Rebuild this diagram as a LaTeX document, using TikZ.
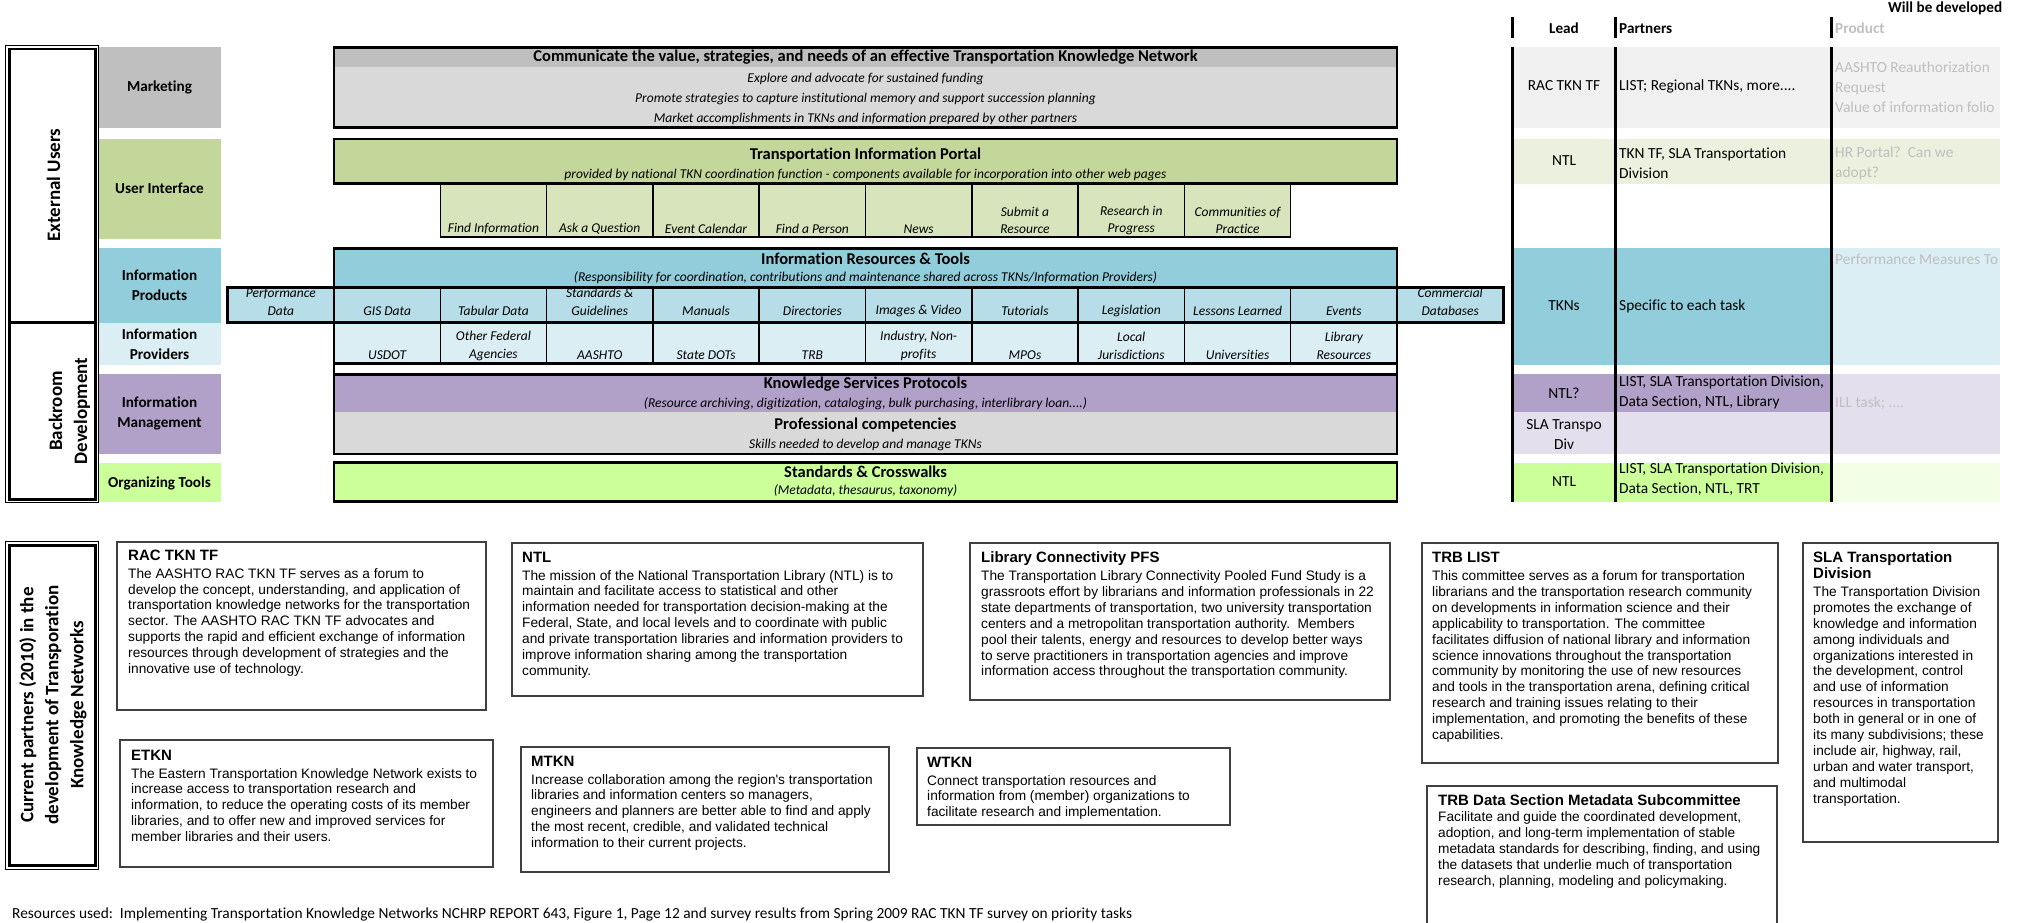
\documentclass[tikz,border=0pt]{standalone}
\usepackage{fontspec}
\setmainfont{Carlito}[Ligatures=NoCommon]
\newfontfamily\arialfont{Liberation Sans}
\usepackage{tikz}

\definecolor{mktdark}{HTML}{BFBFBF}
\definecolor{mktlight}{HTML}{D9D9D9}
\definecolor{uigreen}{HTML}{C4D79B}
\definecolor{uitab}{HTML}{D8E4BC}
\definecolor{prodblue}{HTML}{92CDDC}
\definecolor{prodcell}{HTML}{B7DEE8}
\definecolor{provblue}{HTML}{DAEEF3}
\definecolor{mgmtpurple}{HTML}{B1A0C7}
\definecolor{mgmtlight}{HTML}{E4DFEC}
\definecolor{toolgreen}{HTML}{CCFF99}
\definecolor{toollight}{HTML}{F2FFE6}
\definecolor{tablegray}{HTML}{F0F0F0}
\definecolor{tablepale}{HTML}{F2F2F2}
\definecolor{tablegreen}{HTML}{EBF1DE}
\definecolor{fadetext}{HTML}{BFBFBF}

\newcommand\boxhead{\bfseries\fontsize{15}{16}\selectfont}

\begin{document}
\begin{tikzpicture}[x=1pt,y=-1pt,
	every node/.style={inner sep=0},
	heavy/.style={line width=2.6},
	mid/.style={line width=1.5},
	rowlbl/.style={font=\bfseries\fontsize{15.2}{20}\selectfont,align=center},
	sidelbl/.style={font=\bfseries\fontsize{19}{25}\selectfont,align=center,rotate=90},
	bigttl/.style={font=\bfseries\fontsize{16.5}{20}\selectfont},
	itl/.style={font=\itshape\fontsize{13.5}{17.5}\selectfont,align=center},
	tbl/.style={font=\fontsize{15.4}{20}\selectfont,align=left,anchor=west},
	tblc/.style={font=\fontsize{15.4}{20}\selectfont,align=center},
	tblhd/.style={font=\bfseries\fontsize{15.2}{20}\selectfont},
	faded/.style={tbl,text=fadetext},
	notebox/.style={draw=black!75,line width=1.2},
	notetxt/.style={font=\arialfont\fontsize{13.7}{15.9}\selectfont,align=left,anchor=north west}]
\useasboundingbox (0,0) rectangle (2023,923);
\begin{scope}
\clip (0,0) rectangle (2001,923);

% row labels
\fill[mktdark] (98,47.3) rectangle (221,127.7); % Marketing
\fill[uigreen] (98,139) rectangle (221,239); % User Interface
\fill[prodblue] (98,248.3) rectangle (221,322.7); % Information Products
\fill[provblue] (98,322.7) rectangle (221,365); % Information Providers
\fill[mgmtpurple] (98,374.3) rectangle (221,454); % Information Management
\fill[toolgreen] (98,462.7) rectangle (221,501.5); % Organizing Tools
\node[rowlbl] (lblmkt) at (159.5,87) {Marketing};
\node[rowlbl] (lblui) at (159.5,188) {User Interface};
\node[rowlbl] (lblprod) at (159.5,285) {Information\\Products};
\node[rowlbl] (lblprov) at (159.5,344) {Information\\Providers};
\node[rowlbl] (lblmgmt) at (159.5,413) {Information\\Management};
\node[rowlbl] (lbltools) at (159.5,483) {Organizing Tools};

% left frame
\draw[line width=1] (5.7,45.7) rectangle (98.3,502.3); % outer
\draw[line width=2.6] (9.5,49.2) rectangle (95.3,499.2); % inner
\draw[line width=2.6] (9.5,322.7) -- (95.3,322.7); % divider
\node[sidelbl] (extusers) at (53.5,185) {External Users};
\node[sidelbl] (backroom) at (69.5,411) {Backroom\\Development};

% marketing
\fill[mktlight] (334,47.3) rectangle (1397,127.7);
\fill[mktdark] (334,47.3) rectangle (1397,66.7);
\draw[heavy] (334,47.3) rectangle (1397,127.7);
\node[bigttl] (mkttitle) at (865.5,57.3) {Communicate the value, strategies, and needs of an effective Transportation Knowledge Network};
\node[itl] (mkt1) at (865.5,79) {Explore and advocate for sustained funding};
\node[itl] (mkt2) at (865.5,99) {Promote strategies to capture institutional memory and support succession planning};
\node[itl] (mkt3) at (865.5,119) {Market accomplishments in TKNs and information prepared by other partners};

% user interface
\fill[uigreen] (334,139) rectangle (1397,183.3);
\fill[uitab] (440.3,183.3) rectangle (1290.7,237.3);
\draw[mid] (440.3,183.3) rectangle (546.6,237.3); % Find Information
\draw[mid] (546.6,183.3) rectangle (652.9,237.3); % Ask a Question
\draw[mid] (652.9,183.3) rectangle (759.2,237.3); % Event Calendar
\draw[mid] (759.2,183.3) rectangle (865.5,237.3); % Find a Person
\draw[mid] (865.5,183.3) rectangle (971.8,237.3); % News
\draw[mid] (971.8,183.3) rectangle (1078.1,237.3); % Submit a Resource
\draw[mid] (1078.1,183.3) rectangle (1184.4,237.3); % Research in Progress
\draw[mid] (1184.4,183.3) rectangle (1290.7,237.3); % Communities of Practice
\draw[line width=2] (440.3,237.3) -- (1290.7,237.3);
\draw[heavy] (334,139) rectangle (1397,183.3);
\node[bigttl] (uititle) at (865.5,155) {Transportation Information Portal};
\node[itl] (uisub) at (865.5,175) {provided by national TKN coordination function - components available for incorporation into other web pages};
\node[itl] (tabfind) at (493.45,229) {Find Information};
\node[itl] (tabask) at (599.75,229) {Ask a Question};
\node[itl] (tabevent) at (706.05,229) {Event Calendar};
\node[itl] (tabperson) at (812.35,229) {Find a Person};
\node[itl] (tabnews) at (918.65,229) {News};
\node[itl] (tabsubmit) at (1024.95,220.5) {Submit a\\Resource};
\node[itl] (tabresearch) at (1131.25,220.5) {Research in\\Progress};
\node[itl] (tabcop) at (1237.55,220.5) {Communities of\\Practice};

% information resources and tools
\fill[prodblue] (334,248.3) rectangle (1397,287.7);
\fill[prodcell] (227.7,287.7) rectangle (1503.3,322.7);
\fill[provblue] (334,322.7) rectangle (1397,363.3);
\draw[mid] (227.7,287.7) rectangle (334,322.7); % Performance Data
\draw[mid] (334,287.7) rectangle (440.3,363.3); % GIS Data / USDOT
\draw[mid] (440.3,287.7) rectangle (546.6,363.3); % Tabular Data
\draw[mid] (546.6,287.7) rectangle (652.9,363.3); % Standards
\draw[mid] (652.9,287.7) rectangle (759.2,363.3); % Manuals
\draw[mid] (759.2,287.7) rectangle (865.5,363.3); % Directories
\draw[mid] (865.5,287.7) rectangle (971.8,363.3); % Images
\draw[mid] (971.8,287.7) rectangle (1078.1,363.3); % Tutorials
\draw[mid] (1078.1,287.7) rectangle (1184.4,363.3); % Legislation
\draw[mid] (1184.4,287.7) rectangle (1290.7,363.3); % Lessons Learned
\draw[mid] (1290.7,287.7) rectangle (1397,363.3); % Events
\draw[mid] (1397,287.7) rectangle (1503.3,322.7); % Commercial Databases
\draw[line width=2] (334,322.7) -- (1397,322.7);
\draw[heavy] (334,363.3) -- (1397,363.3);
\draw[heavy] (227.7,287.7) rectangle (1503.3,322.7);
\draw[heavy] (334,248.3) rectangle (1397,374.3);
\node[bigttl] (irttitle) at (865.5,258.3) {Information Resources \& Tools};
\node[itl] (irtsub) at (865.5,277.7) {(Responsibility for coordination, contributions and maintenance shared across TKNs/Information Providers)};
\node[itl] (perfdata) at (280.9,302) {Performance\\Data};
\node[itl] (gisdata) at (387.15,311) {GIS Data};
\node[itl] (tabdata) at (493.45,311) {Tabular Data};
\node[itl] (stdguide) at (599.75,302) {Standards \&\\Guidelines};
\node[itl] (manuals) at (706.05,311) {Manuals};
\node[itl] (directories) at (812.35,311) {Directories};
\node[itl] (images) at (918.65,311) {Images \& Video};
\node[itl] (tutorials) at (1024.95,311) {Tutorials};
\node[itl] (legislation) at (1131.25,311) {Legislation};
\node[itl] (lessons) at (1237.55,311) {Lessons Learned};
\node[itl] (events) at (1343.85,311) {Events};
\node[itl] (commercial) at (1450.2,302) {Commercial\\Databases};
\node[itl] (usdot) at (387.15,355) {USDOT};
\node[itl] (otherfed) at (493.45,346) {Other Federal\\Agencies};
\node[itl] (aashto) at (599.75,355) {AASHTO};
\node[itl] (statedots) at (706.05,355) {State DOTs};
\node[itl] (trb) at (812.35,355) {TRB};
\node[itl] (industry) at (918.65,346) {Industry, Non-\\profits};
\node[itl] (mpos) at (1024.95,355) {MPOs};
\node[itl] (localjur) at (1131.25,346) {Local\\Jurisdictions};
\node[itl] (univ) at (1237.55,355) {Universities};
\node[itl] (libres) at (1343.85,346) {Library\\Resources};

% knowledge services and competencies
\fill[mgmtpurple] (334,374.3) rectangle (1397,411.7);
\fill[mktlight] (334,411.7) rectangle (1397,454);
\draw[heavy] (334,374.3) rectangle (1397,454);
\node[bigttl] (ksptitle) at (865.5,384.3) {Knowledge Services Protocols};
\node[itl] (kspsub) at (865.5,404) {(Resource archiving, digitization, cataloging, bulk purchasing, interlibrary loan....)};
\node[bigttl] (proftitle) at (865.5,425) {Professional competencies};
\node[itl] (profsub) at (865.5,445) {Skills needed to develop and manage TKNs};

% standards
\fill[toolgreen] (334,462.7) rectangle (1397,501.5);
\draw[heavy] (334,462.7) rectangle (1397,501.5);
\node[bigttl] (stdtitle) at (865.5,471.7) {Standards \& Crosswalks};
\node[itl] (stdsub) at (865.5,490.7) {(Metadata, thesaurus, taxonomy)};

% right table
\fill[tablegray] (1512,47.3) rectangle (1831,127.7);
\fill[tablepale] (1831,47.3) rectangle (2000,127.7);
\fill[tablegreen] (1512,139) rectangle (2000,184);
\fill[prodblue] (1512,248.3) rectangle (1831,365);
\fill[provblue] (1831,248.3) rectangle (2000,365);
\fill[mgmtlight] (1512,374.3) rectangle (2000,454);
\fill[mgmtpurple] (1512,374.3) rectangle (1831,412);
\fill[toolgreen] (1512,462.7) rectangle (1831,501.5);
\fill[toollight] (1831,462.7) rectangle (2000,501.5);
\draw[line width=3] (1512,17.3) -- (1512,37.7);
\draw[line width=3] (1615.3,17.3) -- (1615.3,37.7);
\draw[line width=3] (1831,17.3) -- (1831,37.7);
\draw[line width=3] (1512,47.3) -- (1512,501.5);
\draw[line width=3] (1615.3,47.3) -- (1615.3,501.5);
\draw[line width=3] (1831,47.3) -- (1831,501.5);
\node[tblhd,anchor=west] (willdev) at (1888,8) {Will be developed};
\node[tblhd] (leadhd) at (1564,28.3) {Lead};
\node[tblhd,anchor=west] (partnershd) at (1619,28.3) {Partners};
\node[tblhd,anchor=west,text=fadetext] (producthd) at (1835,28.3) {Product};
\node[tblc] (lead1) at (1564,86) {RAC TKN TF};
\node[tbl] (part1) at (1619,86) {LIST; Regional TKNs, more....};
\node[faded] (prod1) at (1835,87) {AASHTO Reauthorization\\Request\\Value of information folio};
\node[tblc] (lead2) at (1564,161) {NTL};
\node[tbl] (part2) at (1619,163) {TKN TF, SLA Transportation\\Division};
\node[faded] (prod2) at (1835,163) {HR Portal?\ \ Can we\\adopt?};
\node[tblc] (lead3) at (1564,306) {TKNs};
\node[tbl] (part3) at (1619,306) {Specific to each task};
\node[faded] (prod3) at (1835,259) {Performance Measures To};
\node[tblc] (lead4) at (1564,393) {NTL?};
\node[tblc] (lead4b) at (1564,434) {SLA Transpo\\Div};
\node[tbl] (part4) at (1619,392.5) {LIST, SLA Transportation Division,\\Data Section, NTL, Library};
\node[faded] (prod4) at (1835,403) {ILL task; ....};
\node[tblc] (lead5) at (1564,482) {NTL};
\node[tbl] (part5) at (1619,479) {LIST, SLA Transportation Division,\\Data Section, NTL, TRT};

% current partners frame
\draw[line width=1] (5.7,541.7) rectangle (98.3,869); % outer
\draw[line width=2.6] (9.5,545.2) rectangle (95.3,865.7); % inner
\node[sidelbl] (partners) at (53,705) {Current partners (2010) in the\\development of Transporation\\Knowledge Networks};

% partner boxes
\draw[notebox] (117,542) rectangle (486,710); % RAC TKN TF
\node[notetxt] (racbox) at (128,549.6) {{\boxhead RAC TKN TF}\\[2pt]The AASHTO RAC TKN TF serves as a forum to\\develop the concept, understanding, and application of\\transportation knowledge networks for the transportation\\sector. The AASHTO RAC TKN TF advocates and\\supports the rapid and efficient exchange of information\\resources through development of strategies and the\\innovative use of technology.};
\draw[notebox] (120,740) rectangle (493,867); % ETKN
\node[notetxt] (etknbox) at (131,749.6) {{\boxhead ETKN}\\[2pt]The Eastern Transportation Knowledge Network exists to\\increase access to transportation research and\\information, to reduce the operating costs of its member\\libraries, and to offer new and improved services for\\member libraries and their users.};
\draw[notebox] (512,543) rectangle (923,696); % NTL
\node[notetxt] (ntlbox) at (522,551.6) {{\boxhead NTL}\\[2pt]The mission of the National Transportation Library (NTL) is to\\maintain and facilitate access to statistical and other\\information needed for transportation decision-making at the\\Federal, State, and local levels and to coordinate with public\\and private transportation libraries and information providers to\\improve information sharing among the transportation\\community.};
\draw[notebox] (521,747) rectangle (889,872); % MTKN
\node[notetxt] (mtknbox) at (531,755.6) {{\boxhead MTKN}\\[2pt]Increase collaboration among the region's transportation\\libraries and information centers so managers,\\engineers and planners are better able to find and apply\\the most recent, credible, and validated technical\\information to their current projects.};
\draw[notebox] (917,748) rectangle (1230,825); % WTKN
\node[notetxt] (wtknbox) at (927,756.6) {{\boxhead WTKN}\\[2pt]Connect transportation resources and\\information from (member) organizations to\\facilitate research and implementation.};
\draw[notebox] (970,543) rectangle (1390,700); % Library Connectivity PFS
\node[notetxt] (pfsbox) at (981,551.6) {{\boxhead Library Connectivity PFS}\\[2pt]The Transportation Library Connectivity Pooled Fund Study is a\\grassroots effort by librarians and information professionals in 22\\state departments of transportation, two university transportation\\centers and a metropolitan transportation authority.\ \ Members\\pool their talents, energy and resources to develop better ways\\to serve practitioners in transportation agencies and improve\\information access throughout the transportation community.};
\draw[notebox] (1422,543) rectangle (1778,763); % TRB LIST
\node[notetxt] (listbox) at (1432,552) {{\boxhead TRB LIST}\\[2pt]This committee serves as a forum for transportation\\librarians and the transportation research community\\on developments in information science and their\\applicability to transportation. The committee\\facilitates diffusion of national library and information\\science innovations throughout the transportation\\community by monitoring the use of new resources\\and tools in the transportation arena, defining critical\\research and training issues relating to their\\implementation, and promoting the benefits of these\\capabilities.};
\draw[notebox] (1427,935) -- (1427,786) -- (1777,786) -- (1777,935); % TRB Data Section
\node[notetxt] (metabox) at (1438,794.6) {{\boxhead TRB Data Section Metadata Subcommittee}\\Facilitate and guide the coordinated development,\\adoption, and long-term implementation of stable\\metadata standards for describing, finding, and using\\the datasets that underlie much of transportation\\research, planning, modeling and policymaking.};
\draw[notebox] (1803,543) rectangle (1998,842); % SLA
\node[notetxt] (slabox) at (1813,551.6) {{\boxhead SLA Transportation}\\{\boxhead Division}\\[2pt]The Transportation Division\\promotes the exchange of\\knowledge and information\\among individuals and\\organizations interested in\\the development, control\\and use of information\\resources in transportation\\both in general or in one of\\its many subdivisions; these\\include air, highway, rail,\\urban and water transport,\\and multimodal\\transportation.};

\node[font=\fontsize{15.4}{18}\selectfont,anchor=base west] (sources) at (12,918.5) {Resources used:\ \ Implementing Transportation Knowledge Networks NCHRP REPORT 643, Figure 1, Page 12 and survey results from Spring 2009 RAC TKN TF survey on priority tasks};
\end{scope}
\end{tikzpicture}
\end{document}
